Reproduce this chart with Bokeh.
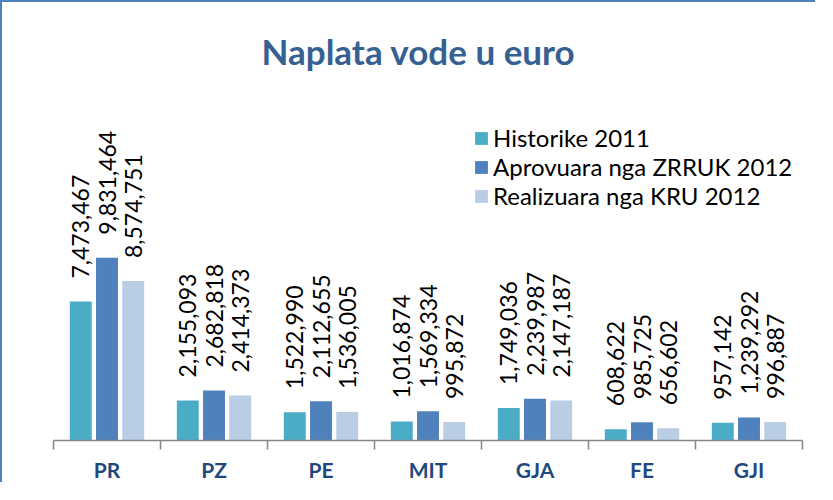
import math
from bokeh.plotting import figure
from bokeh.models import ColumnDataSource, Range1d, FixedTicker, Legend, LegendItem
from bokeh.core.properties import value
from bokeh.embed import file_html
from bokeh.resources import INLINE

categories = ["PR", "PZ", "PE", "MIT", "GJA", "FE", "GJI"]
series_names = ["Historike 2011", "Aprovuara nga ZRRUK 2012", "Realizuara nga KRU 2012"]
historike_2011 = [7473467, 2155093, 1522990, 1016874, 1749036, 608622, 957142]
aprovuara_2012 = [9831464, 2682818, 2112655, 1569334, 2239987, 985725, 1239292]
realizuara_2012 = [8574751, 2414373, 1536005, 995872, 2147187, 656602, 996887]

series_values = [historike_2011, aprovuara_2012, realizuara_2012]
colors = ["#4BACC6", "#4F81BD", "#B9CDE5"]
offsets = [-0.245, 0.0, 0.245]
bar_w = 0.205

W, H = 815, 482
p = figure(width=W, height=H, output_backend="svg", toolbar_location=None,
           x_range=Range1d(0, len(categories)), y_range=Range1d(0, 18.5e6),
           y_axis_location=None, min_border_left=51, min_border_right=15,
           min_border_top=90, min_border_bottom=44)
p.styles = {"border-top": "2px solid #4F81BD", "border-left": "2px solid #4F81BD"}
p.outline_line_color = None
p.grid.visible = False
p.background_fill_color = "white"
p.border_fill_color = "white"

p.title.text = "Naplata vode u euro"
p.title.align = "left"
p.title.text_font = "Lato"
p.title.text_font_size = "35px"
p.title.text_font_style = "bold"
p.title.text_color = "#376092"
p.title.offset = 208
p.title.standoff = 50

centers = [i + 0.5 for i in range(len(categories))]
items = []
for name, vals, col, off in zip(series_names, series_values, colors, offsets):
    src = ColumnDataSource(dict(
        x=[c + off for c in centers],
        top=vals,
        label=[f"{v:,}" for v in vals],
    ))
    r = p.vbar(x="x", top="top", width=bar_w, source=src, fill_color=col,
               line_color=None)
    p.text(x="x", y="top", text="label", source=src, angle=math.pi / 2,
           text_align="left", text_baseline="middle", y_offset=-23,
           text_font=value("Lato"), text_font_size="23px", text_color="#000000")
    items.append(LegendItem(label=name, renderers=[r]))

legend = Legend(items=items, location=(420, 230), background_fill_alpha=0,
                border_line_color=None, padding=0, margin=0, spacing=-2,
                glyph_width=16, glyph_height=16, label_standoff=4,
                label_text_font="Lato", label_text_font_size="24px",
                label_text_color="#000000")
p.add_layout(legend)

ax = p.xaxis[0]
ax.ticker = FixedTicker(ticks=centers, minor_ticks=list(range(len(categories) + 1)))
ax.major_label_overrides = {c: lab for c, lab in zip(centers, categories)}
ax.major_tick_line_color = None
ax.major_tick_out = 0
ax.major_tick_in = 0
ax.minor_tick_out = 9
ax.minor_tick_in = 0
ax.minor_tick_line_color = "#868686"
ax.minor_tick_line_width = 1.5
ax.axis_line_color = "#868686"
ax.axis_line_width = 1.5
ax.major_label_standoff = 7
ax.major_label_text_font = "Lato"
ax.major_label_text_font_size = "21px"
ax.major_label_text_font_style = "bold"
ax.major_label_text_color = "#1F497D"

open("out.html", "w").write(file_html(p, INLINE))
